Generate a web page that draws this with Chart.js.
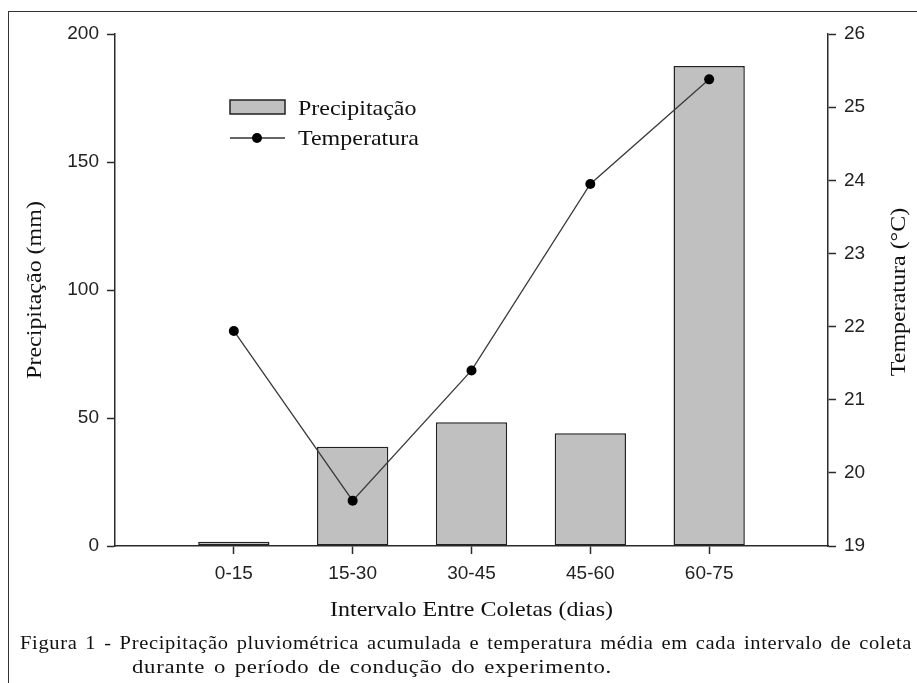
<!DOCTYPE html>
<html>
<head>
<meta charset="utf-8">
<script src="https://cdn.jsdelivr.net/npm/chart.js@4.4.1/dist/chart.umd.min.js"></script>
<style>
  html,body{margin:0;padding:0;background:#fff;}
  #wrap{position:relative;width:917px;height:683px;overflow:hidden;background:#fff;}
  #frame{position:absolute;left:8px;top:11px;width:1000px;height:1000px;border-left:1.5px solid #333;border-top:1.5px solid #333;box-sizing:border-box;}
  canvas{position:absolute;left:0;top:0;}
  .cap{position:absolute;font-family:"Liberation Serif","Times New Roman",serif;font-size:19px;letter-spacing:0.6px;word-spacing:2px;color:#111;white-space:nowrap;transform-origin:0 50%;}
  #cap1{left:20px;top:632px;}
  #cap2{left:132px;top:656px;}
</style>
</head>
<body>
<div id="wrap">
  <div id="frame"></div>
  <canvas id="c" width="917" height="683"></canvas>
  <div class="cap" id="cap1">Figura 1 - Precipitação pluviométrica acumulada e temperatura média em cada intervalo de coleta</div>
  <div class="cap" id="cap2">durante o período de condução do experimento.</div>
</div>
<script>
const categories = ['0-15', '15-30', '30-45', '45-60', '60-75'];
const precipitacao = [1.7, 38.8, 48.3, 44.0, 187.5];
const temperatura = [21.94, 19.62, 21.40, 23.95, 25.38];
const precTicks = [0, 50, 100, 150, 200];
const tempTicks = [19, 20, 21, 22, 23, 24, 25, 26];

const labels = [''].concat(categories, ['']);
const barData = [null].concat(precipitacao, [null]);
const lineData = [null].concat(temperatura, [null]);

function fitWidth(id, target) {
  const el = document.getElementById(id);
  const w = el.getBoundingClientRect().width;
  el.style.transform = 'scaleX(' + (target / w) + ')';
}
fitWidth('cap1', 892);
fitWidth('cap2', 480);

const AX = '#2a2a2a';
const SERIF = '"Liberation Serif","Times New Roman",serif';
const SANS = '"Liberation Sans",Arial,sans-serif';
const STRETCH = 1.09;

function wideText(ctx, text, x, y, rot) {
  ctx.save();
  ctx.translate(x, y);
  if (rot) ctx.rotate(rot);
  ctx.scale(STRETCH, 1);
  ctx.fillText(text, 0, 0);
  ctx.restore();
}

const decor = {
  id: 'decor',
  afterDraw(chart) {
    const ctx = chart.ctx;
    const ca = chart.chartArea;
    ctx.save();
    ctx.fillStyle = '#c0c0c0';
    ctx.fillRect(230, 100, 55, 14);
    ctx.strokeStyle = '#222';
    ctx.lineWidth = 1.5;
    ctx.strokeRect(230, 100, 55, 14);
    ctx.strokeStyle = '#333';
    ctx.lineWidth = 1.3;
    ctx.beginPath(); ctx.moveTo(230, 138); ctx.lineTo(285, 138); ctx.stroke();
    ctx.fillStyle = '#000';
    ctx.beginPath(); ctx.arc(257, 138, 5, 0, Math.PI * 2); ctx.fill();
    ctx.fillStyle = '#111';
    ctx.font = '22px ' + SERIF;
    ctx.textBaseline = 'alphabetic';
    ctx.textAlign = 'left';
    wideText(ctx, 'Precipitação', 298, 115);
    wideText(ctx, 'Temperatura', 298, 145);
    ctx.textAlign = 'center';
    ctx.textBaseline = 'middle';
    wideText(ctx, 'Intervalo Entre Coletas (dias)', (ca.left + ca.right) / 2, 610);
    wideText(ctx, 'Precipitação (mm)', 35, (ca.top + ca.bottom) / 2, -Math.PI / 2);
    wideText(ctx, 'Temperatura (°C)', 899, (ca.top + ca.bottom) / 2 + 2, -Math.PI / 2);
    ctx.restore();
  }
};

new Chart(document.getElementById('c'), {
  data: {
    labels: labels,
    datasets: [
      {
        type: 'line',
        label: 'Temperatura',
        data: lineData,
        yAxisID: 'y2',
        borderColor: '#3a3a3a',
        borderWidth: 1.3,
        pointBackgroundColor: '#000',
        pointBorderColor: '#000',
        pointRadius: 5,
        pointBorderWidth: 0,
        tension: 0,
        order: 0
      },
      {
        type: 'bar',
        label: 'Precipitação',
        data: barData,
        yAxisID: 'y',
        backgroundColor: '#c0c0c0',
        borderColor: '#222',
        borderWidth: 1.5,
        borderSkipped: false,
        categoryPercentage: 1,
        barPercentage: 0.6,
        order: 1
      }
    ]
  },
  options: {
    responsive: false,
    animation: false,
    devicePixelRatio: 1,
    layout: { padding: { top: 34, left: 0, right: 0, bottom: 0 } },
    plugins: { legend: { display: false }, tooltip: { enabled: false } },
    scales: {
      x: {
        type: 'category',
        offset: false,
        grid: {
          offset: false,
          drawOnChartArea: false, drawTicks: true, tickLength: 8,
          tickColor: (c) => (c.index === 0 || c.index === labels.length - 1) ? 'rgba(0,0,0,0)' : AX,
          tickWidth: 1.5
        },
        border: { display: true, color: AX, width: 1.5 },
        ticks: { font: { family: SANS, size: 19 }, color: '#222', padding: 8, maxRotation: 0, autoSkip: false },
        afterFit: (s) => { s.height = 137; }
      },
      y: {
        position: 'left',
        min: precTicks[0], max: precTicks[precTicks.length - 1],
        afterBuildTicks: (s) => { s.ticks = precTicks.map(v => ({ value: v })); },
        grid: { drawOnChartArea: false, drawTicks: true, tickLength: 8, tickColor: AX, tickWidth: 1.5 },
        border: { display: true, color: AX, width: 1.5 },
        ticks: { font: { family: SANS, size: 19 }, color: '#222', padding: 8 },
        afterFit: (s) => { s.width = 115; }
      },
      y2: {
        position: 'right',
        min: tempTicks[0], max: tempTicks[tempTicks.length - 1],
        afterBuildTicks: (s) => { s.ticks = tempTicks.map(v => ({ value: v })); },
        grid: { drawOnChartArea: false, drawTicks: true, tickLength: 8, tickColor: AX, tickWidth: 1.5 },
        border: { display: true, color: AX, width: 1.5 },
        ticks: { font: { family: SANS, size: 19 }, color: '#222', padding: 8 },
        afterFit: (s) => { s.width = 89; }
      }
    }
  },
  plugins: [decor]
});
</script>
</body>
</html>
